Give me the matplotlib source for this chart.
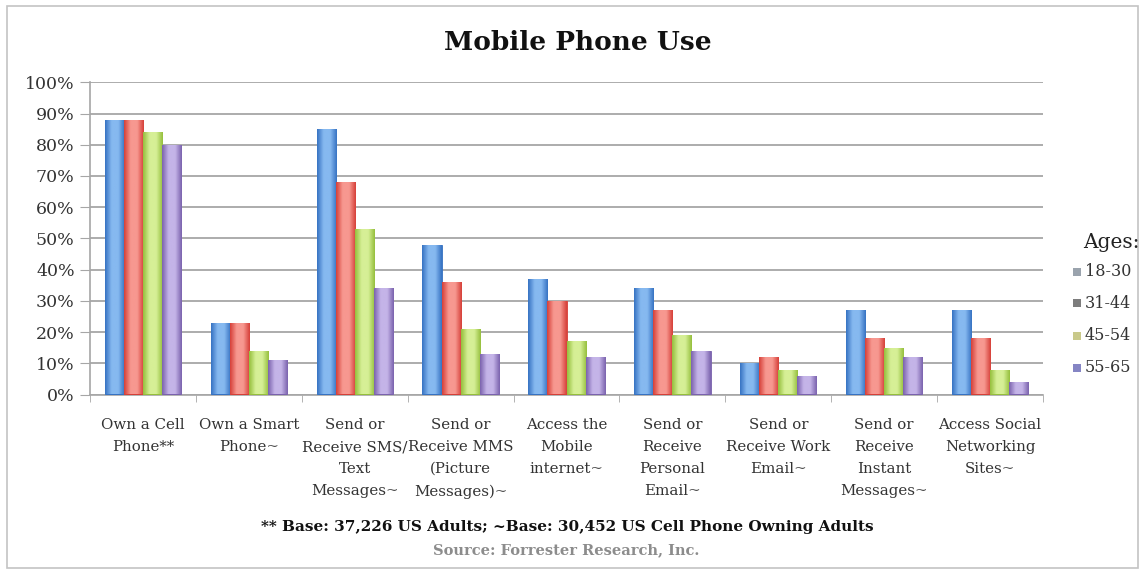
import numpy as np
import matplotlib
matplotlib.use("Agg")
import matplotlib.pyplot as plt
from matplotlib.colors import LinearSegmentedColormap, to_rgb
from matplotlib.patches import Rectangle

categories = [
    "Own a Cell\nPhone**",
    "Own a Smart\nPhone~",
    "Send or\nReceive SMS/\nText\nMessages~",
    "Send or\nReceive MMS\n(Picture\nMessages)~",
    "Access the\nMobile\ninternet~",
    "Send or\nReceive\nPersonal\nEmail~",
    "Send or\nReceive Work\nEmail~",
    "Send or\nReceive\nInstant\nMessages~",
    "Access Social\nNetworking\nSites~",
]
age_groups = ["18-30", "31-44", "45-54", "55-65"]
ages_18_30 = [88, 23, 85, 48, 37, 34, 10, 27, 27]
ages_31_44 = [88, 23, 68, 36, 30, 27, 12, 18, 18]
ages_45_54 = [84, 14, 53, 21, 17, 19, 8, 15, 8]
ages_55_65 = [80, 11, 34, 13, 12, 14, 6, 12, 4]
y_ticks = [0, 10, 20, 30, 40, 50, 60, 70, 80, 90, 100]

series = [ages_18_30, ages_31_44, ages_45_54, ages_55_65]
# (edge shade, centre highlight) for each age group
bar_shades = [
    ("#3672c2", "#86b9f0"),
    ("#d63f38", "#f79890"),
    ("#95bf3c", "#d6ef96"),
    ("#7a62ad", "#c4b4e8"),
]
legend_swatches = ["#9aa3ad", "#7d7d7d", "#c9c98a", "#8585c4"]

serif = ["DejaVu Serif"]
plt.rcParams["font.family"] = serif

fig = plt.figure(figsize=(11.43, 5.74), dpi=100)
fig.patch.set_facecolor("white")
fig.add_artist(Rectangle((7 / 1143, 6 / 574), 1131 / 1143, 562 / 574,
                         transform=fig.transFigure, fill=False,
                         edgecolor="#c4c4c4", linewidth=1.2))

ax = fig.add_axes([90 / 1143, 179.5 / 574, 953 / 1143, 312.2 / 574])

x = np.arange(len(categories))
bar_w = 0.18
offsets = (np.arange(len(series)) - 1.5) * bar_w

for vals, off, (dark, light) in zip(series, offsets, bar_shades):
    cmap = LinearSegmentedColormap.from_list(
        "shade", [to_rgb(dark), to_rgb(light), to_rgb(light), to_rgb(dark)])
    grad = np.linspace(0, 1, 64).reshape(1, -1)
    bars = ax.bar(x + off, vals, width=bar_w, color=dark,
                  edgecolor=dark, linewidth=0.6, zorder=3)
    for b in bars:
        x0, w, h = b.get_x(), b.get_width(), b.get_height()
        im = ax.imshow(grad, cmap=cmap, aspect="auto",
                       extent=(x0, x0 + w, 0, h), zorder=3.5,
                       interpolation="bicubic")
        im.set_clip_path(b)

ax.set_xlim(-0.5, len(categories) - 0.5)
ax.set_ylim(0, 100)
ax.set_yticks(y_ticks)
ax.set_yticklabels([f"{t}%" for t in y_ticks], fontsize=12.5, color="#333333")
ax.yaxis.grid(True, color="#a6a6a6", linewidth=1.3, zorder=0)
ax.set_axisbelow(True)

ax.set_xticks(x)
ax.set_xticklabels(categories, fontsize=10.8, color="#333333", linespacing=1.72)
ax.tick_params(axis="x", length=0, pad=17)
ax.set_xticks(np.arange(len(categories) + 1) - 0.5, minor=True)
ax.tick_params(axis="x", which="minor", length=5, color="#a6a6a6")
ax.tick_params(axis="y", length=7, color="#a6a6a6", pad=4)

for side in ("top", "right"):
    ax.spines[side].set_visible(False)
for side in ("left", "bottom"):
    ax.spines[side].set_color("#a6a6a6")
    ax.spines[side].set_linewidth(1.2)

fig.text(578 / 1143, 1 - 43 / 574, "Mobile Phone Use", ha="center",
         va="center", fontsize=19, fontweight="bold", color="#111111")

fig.text(1111 / 1143, 1 - 242 / 574, "Ages:", ha="center", va="center",
         fontsize=14.5, color="#222222")
legend_y = [272, 303, 336, 368]
for label, col, yy in zip(age_groups, legend_swatches, legend_y):
    fig.add_artist(Rectangle((1073 / 1143, 1 - (yy + 4) / 574), 8 / 1143, 8 / 574,
                             transform=fig.transFigure, facecolor=col,
                             edgecolor="none"))
    fig.text(1085 / 1143, 1 - yy / 574, label, ha="left", va="center",
             fontsize=11.5, color="#333333")

fig.text(567 / 1143, 1 - 527 / 574,
         "** Base: 37,226 US Adults; ~Base: 30,452 US Cell Phone Owning Adults",
         ha="center", va="center", fontsize=11, fontweight="bold",
         color="#111111")
fig.text(566 / 1143, 1 - 550 / 574, "Source: Forrester Research, Inc.",
         ha="center", va="center", fontsize=10.5, fontweight="bold",
         color="#8c8c8c")

fig.savefig("out.png", dpi=100, facecolor="white")
